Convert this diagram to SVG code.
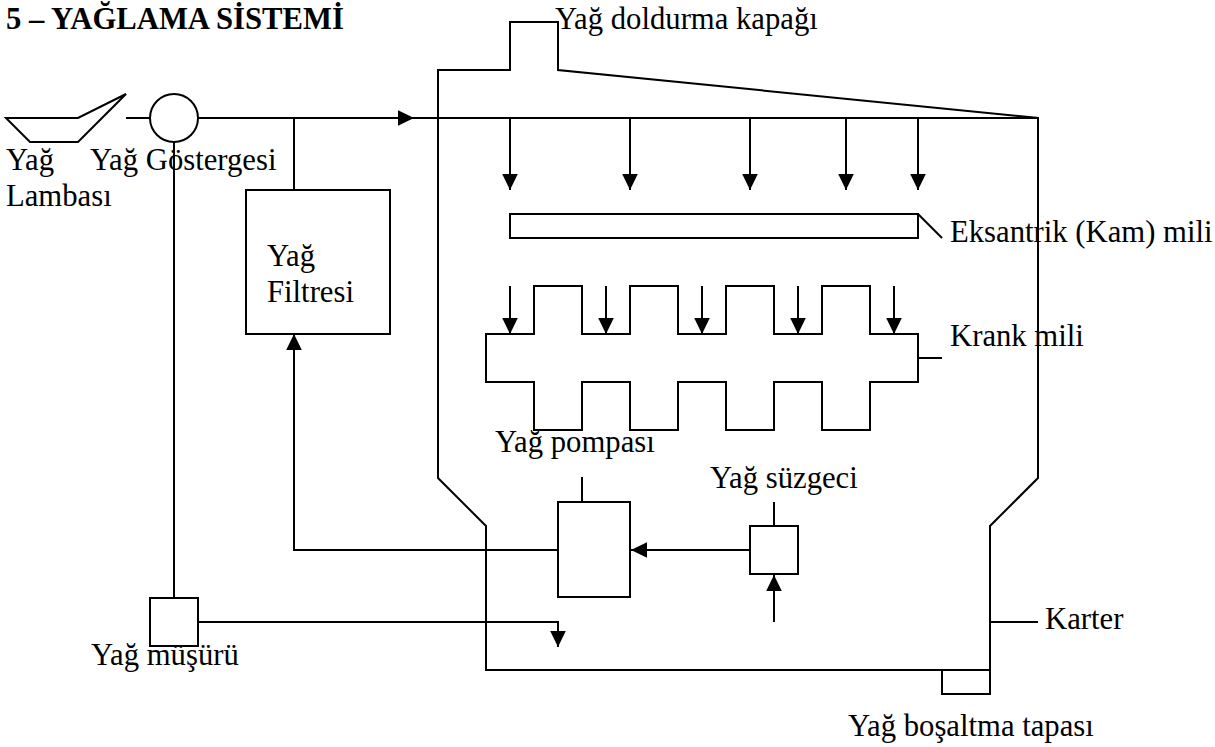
<svg xmlns="http://www.w3.org/2000/svg" width="1215" height="747" viewBox="0 0 1215 747">
<style>
.s{fill:none;stroke:#000;stroke-width:2}
.c{fill:none;stroke:#000;stroke-width:2}
.t{font-family:"Liberation Serif","Times New Roman",serif;font-size:30.7px;fill:#000}
.b{font-weight:bold}
</style>
<defs>
<marker id="a" markerUnits="userSpaceOnUse" markerWidth="16" markerHeight="16" refX="16" refY="8" orient="auto"><path d="M0 0.2L16 8L0 15.8Z" fill="#000"/></marker>
</defs>
<rect width="1215" height="747" fill="#fff"/>
<g id="connectors">
<path class="c" d="M126 118H150"/>
<path class="c" d="M198 118H414" marker-end="url(#a)"/>
<path class="c" d="M414 118H1038"/>
<path class="c" d="M294 118V190"/>
<path class="c" d="M174 142V598"/>
<path class="c" d="M510 118V190" marker-end="url(#a)"/>
<path class="c" d="M630 118V190" marker-end="url(#a)"/>
<path class="c" d="M750 118V190" marker-end="url(#a)"/>
<path class="c" d="M846 118V190" marker-end="url(#a)"/>
<path class="c" d="M918 118V190" marker-end="url(#a)"/>
<path class="c" d="M510 286V334" marker-end="url(#a)"/>
<path class="c" d="M606 286V334" marker-end="url(#a)"/>
<path class="c" d="M702 286V334" marker-end="url(#a)"/>
<path class="c" d="M798 286V334" marker-end="url(#a)"/>
<path class="c" d="M894 286V334" marker-end="url(#a)"/>
<path class="c" d="M918 214L942 238"/>
<path class="c" d="M918 358H942"/>
<path class="c" d="M558 550H294V334" marker-end="url(#a)"/>
<path class="c" d="M750 550H631" marker-end="url(#a)"/>
<path class="c" d="M774 622V575" marker-end="url(#a)"/>
<path class="c" d="M774 502V526"/>
<path class="c" d="M582 477V502"/>
<path class="c" d="M198 622H558V647" marker-end="url(#a)"/>
<path class="c" d="M990 622H1038"/>
</g>
<g id="lamba"><path class="s" d="M6 118H78L126 94L78 142H30Z"/></g>
<g id="gosterge"><circle class="s" cx="174" cy="118" r="24"/></g>
<g id="filtre"><rect class="s" x="246" y="190" width="144" height="144"/></g>
<g id="karter"><path class="s" d="M438 478V70H510V22H558V70L1038 118V478L990 526V670H486V526Z"/></g>
<g id="tapa"><path class="s" d="M942 670V694H990V670"/></g>
<g id="eksantrik"><rect class="s" x="510" y="214" width="408" height="24"/></g>
<g id="krank"><path class="s" d="M486 334H534V286H582V334H630V286H678V334H726V286H774V334H822V286H870V334H918V382H870V430H822V382H774V430H726V382H678V430H630V382H582V430H534V382H486Z"/></g>
<g id="pompa"><rect class="s" x="558" y="502" width="72" height="95"/></g>
<g id="suzgec"><rect class="s" x="750" y="526" width="48" height="48"/></g>
<g id="musur"><rect class="s" x="150" y="598" width="48" height="48"/></g>
<g id="labels">
<text class="t b" x="6" y="29">5 – YAĞLAMA SİSTEMİ</text>
<text class="t" x="555" y="29">Yağ doldurma kapağı</text>
<text class="t" x="6" y="170">Yağ</text>
<text class="t" x="90" y="170">Yağ Göstergesi</text>
<text class="t" x="6" y="206">Lambası</text>
<text class="t" x="267" y="266">Yağ</text>
<text class="t" x="267" y="302">Filtresi</text>
<text class="t" x="950" y="242">Eksantrik (Kam) mili</text>
<text class="t" x="950" y="346">Krank mili</text>
<text class="t" x="495" y="452">Yağ pompası</text>
<text class="t" x="710" y="488">Yağ süzgeci</text>
<text class="t" x="1045" y="629">Karter</text>
<text class="t" x="91" y="665">Yağ müşürü</text>
<text class="t" x="848" y="736">Yağ boşaltma tapası</text>
</g>
</svg>
